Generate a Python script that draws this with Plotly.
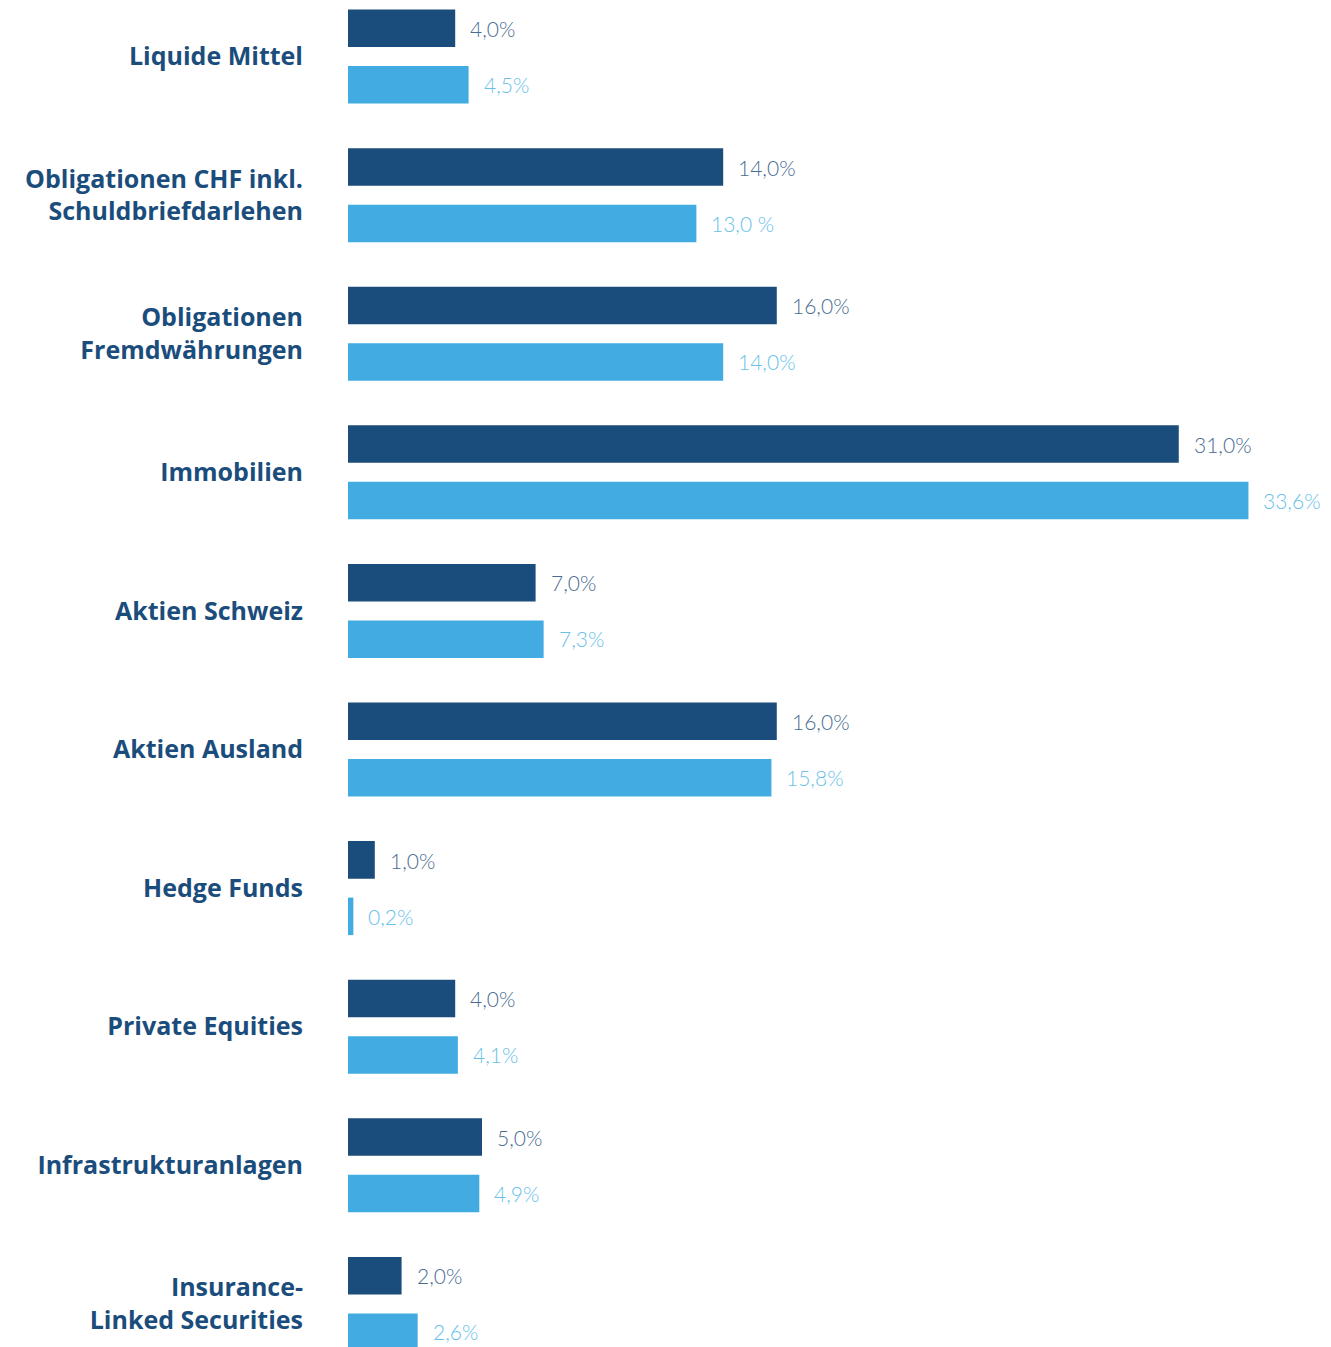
import plotly.graph_objects as go

categories = [
    "Liquide Mittel",
    "Obligationen CHF inkl.<br>Schuldbriefdarlehen",
    "Obligationen<br>Fremdwährungen",
    "Immobilien",
    "Aktien Schweiz",
    "Aktien Ausland",
    "Hedge Funds",
    "Private Equities",
    "Infrastrukturanlagen",
    "Insurance-<br>Linked Securities",
]
strategy = [4.0, 14.0, 16.0, 31.0, 7.0, 16.0, 1.0, 4.0, 5.0, 2.0]
actual = [4.5, 13.0, 14.0, 33.6, 7.3, 15.8, 0.2, 4.1, 4.9, 2.6]
strategy_labels = ["4,0%", "14,0%", "16,0%", "31,0%", "7,0%", "16,0%", "1,0%", "4,0%", "5,0%", "2,0%"]
actual_labels = ["4,5%", "13,0 %", "14,0%", "33,6%", "7,3%", "15,8%", "0,2%", "4,1%", "4,9%", "2,6%"]

DARK = "#1b4d7c"
LIGHT = "#42ace2"
DARK_TXT = "#4a6c91"
LIGHT_TXT = "#69bfea"

fig = go.Figure()
fig.add_trace(go.Bar(y=categories, x=strategy, orientation="h", marker_color=DARK,
                     marker_line_width=0, hoverinfo="skip"))
fig.add_trace(go.Bar(y=categories, x=actual, orientation="h", marker_color=LIGHT,
                     marker_line_width=0, hoverinfo="skip"))

annotations = []
for c, v, t in zip(categories, strategy, strategy_labels):
    annotations.append(dict(x=v, y=c, text=t, xref="x", yref="y", showarrow=False,
                            xanchor="left", yanchor="middle", xshift=13, yshift=28,
                            font=dict(family="Lato", size=21, color=DARK_TXT, weight=300)))
for c, v, t in zip(categories, actual, actual_labels):
    annotations.append(dict(x=v, y=c, text=t, xref="x", yref="y", showarrow=False,
                            xanchor="left", yanchor="middle", xshift=13, yshift=-28,
                            font=dict(family="Lato", size=21, color=LIGHT_TXT, weight=300)))

fig.update_layout(
    width=1331, height=1347,
    margin=dict(l=348, r=0, t=0, b=0, pad=0),
    paper_bgcolor="white", plot_bgcolor="white",
    barmode="group", bargap=0.185, bargroupgap=0.336,
    showlegend=False,
    annotations=annotations,
    xaxis=dict(range=[0, 36.68], visible=False, fixedrange=True),
    yaxis=dict(type="category", range=[9.311, -0.408], showgrid=False, zeroline=False,
               showline=False, ticks="", ticklabelstandoff=44, fixedrange=True,
               tickfont=dict(family="Open Sans", size=25, color=DARK, weight="bold")),
)

fig.write_html("out.html", config={"displayModeBar": False},
               post_script="document.body.style.margin='0';document.body.style.overflow='hidden';")
